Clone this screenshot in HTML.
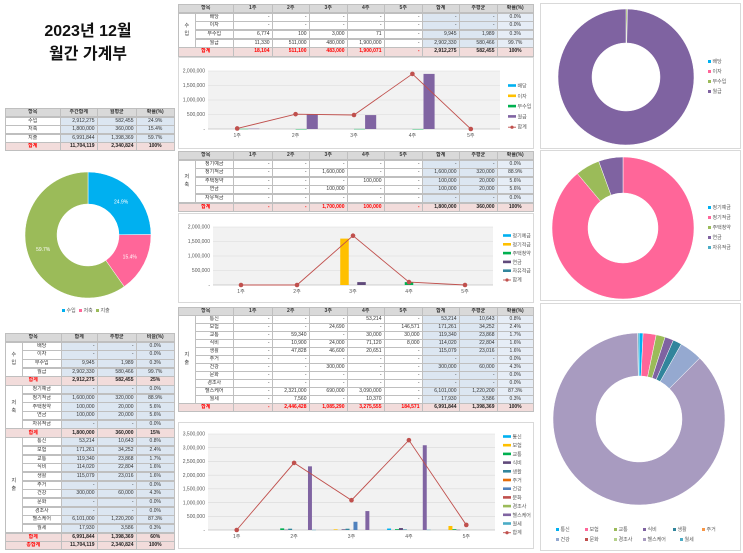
<!DOCTYPE html>
<html><head><meta charset="utf-8">
<style>
body{margin:0;width:743px;height:553px;background:#fff;position:relative;overflow:hidden;font-family:"Liberation Sans","Noto Sans CJK KR",sans-serif;}
.c{position:absolute;box-sizing:border-box;border:0.5px solid #bfbfbf;font-size:5px;line-height:1;display:flex;align-items:center;justify-content:center;color:#333;white-space:nowrap;overflow:hidden;}
.c.r{justify-content:flex-end;padding-right:2px;}
.hd{background:#d9d9d9;font-weight:bold;}
.bl{background:#dce6f1;}
.pb{background:#e6edf6;}
.tt{background:#f2dcdb;color:#ff0000;font-weight:bold;}
.tk{background:#f2dcdb;color:#222;font-weight:bold;}
.cat{writing-mode:horizontal-tb;white-space:pre;line-height:1.6;text-align:center;}
#title{position:absolute;left:0;width:176px;top:20px;text-align:center;font-size:16px;font-weight:bold;line-height:23px;color:#111;}
svg{position:absolute;left:0;top:0;}
</style></head>
<body>
<div id="title">2023년 12월<br>월간 가계부</div>
<div id="tables"></div>
<svg id="svg" width="743" height="553" style="pointer-events:none"></svg>
<script>
// ---------- chart data ----------
const weeks = ["1주","2주","3주","4주","5주"];
const incNames = ["배당","이자","부수입","월급"];
const incDiv = [0,0,0,0,0];
const incInt = [0,0,0,0,0];
const incSide = [6774,100,3000,71,0];
const incSal = [11330,511000,480000,1900000,0];
const incTotal = [18104,511100,483000,1900071,0];
const incTicks = ["-","500,000","1,000,000","1,500,000","2,000,000"];

const savNames = ["정기예금","정기적금","주택청약","연금","자유적금"];
const savDep = [0,0,0,0,0];
const savInst = [0,0,1600000,0,0];
const savHouse = [0,0,0,100000,0];
const savPen = [0,0,100000,0,0];
const savFree = [0,0,0,0,0];
const savTotal = [0,0,1700000,100000,0];
const savTicks = ["-","500,000","1,000,000","1,500,000","2,000,000"];

const expNames = ["통신","보험","교통","식비","생활","주거","건강","문화","경조사","헬스케어","월세"];
const expTel = [0,0,0,53214,0];
const expIns = [0,0,24690,0,146571];
const expTrans = [0,59340,0,30000,30000];
const expFood = [0,10900,24000,71120,8000];
const expLife = [0,47828,46600,20651,0];
const expHouse = [0,0,0,0,0];
const expHealth = [0,0,300000,0,0];
const expCult = [0,0,0,0,0];
const expEvent = [0,0,0,0,0];
const expCare = [0,2321000,690000,3090000,0];
const expRent = [0,7560,0,10370,0];
const expTotal = [0,2446428,1085290,3275555,184571];
const expTicks = ["-","500,000","1,000,000","1,500,000","2,000,000","2,500,000","3,000,000","3,500,000"];

const sumNames = ["수입","저축","지출"];
const sumValues = [2912275,1800000,6991844];
const incTotals = [0,0,9945,2902330];
const savTotals = [0,1600000,100000,100000,0];
const expTotals = [53214,171261,119340,114020,115079,0,300000,0,0,6101000,17930];

// ---------- tables ----------
const T = document.getElementById('tables');
function cell(x,y,w,h,t,cls,name){
  const d=document.createElement('div');
  d.className='c '+(cls||'');
  d.style.left=x+'px';d.style.top=y+'px';d.style.width=(w+0.5)+'px';d.style.height=(h+0.5)+'px';
  d.textContent=t;
  
  
  T.appendChild(d);return d;
}
// weekly tables
const MX=[178,195,233,272,309,347,384,422,459,497,533];
const hdrW=["1주","2주","3주","4주","5주","합계","주평균","확률(%)"];
function weekTable(y,rh,cat,rows,total){
  cell(MX[0],y,MX[2]-MX[0],rh,"항목","hd",'header-cell');
  hdrW.forEach((t,i)=>cell(MX[i+2],y,MX[i+3]-MX[i+2],rh,t,"hd",'header-cell'));
  cell(MX[0],y+rh,MX[1]-MX[0],rh*rows.length,cat,"cat",'category-cell');
  rows.forEach((r,j)=>{
    const yy=y+rh*(j+1);
    cell(MX[1],yy,MX[2]-MX[1],rh,r[0],"",'item-cell');
    for(let i=1;i<=8;i++){
      let cls = i<=5?"r":(i<=7?"r bl":"pb");
      cell(MX[i+1],yy,MX[i+2]-MX[i+1],rh,r[i],cls,'value-cell');
    }
  });
  const yt=y+rh*(rows.length+1);
  cell(MX[0],yt,MX[2]-MX[0],rh,"합계","tt",'total-label');
  for(let i=1;i<=8;i++){
    cell(MX[i+1],yt,MX[i+2]-MX[i+1],rh,total[i-1],i<=5?"tt r":(i<=7?"tk r":"tk"),'total-cell');
  }
}
weekTable(4,8.67,"수\n입",[
 ["배당","-","-","-","-","-","-","-","0.0%"],
 ["이자","-","-","-","-","-","-","-","0.0%"],
 ["부수입","6,774","100","3,000","71","-","9,945","1,989","0.3%"],
 ["월급","11,330","511,000","480,000","1,900,000","-","2,902,330","580,466","99.7%"]],
 ["18,104","511,100","483,000","1,900,071","-","2,912,275","582,455","100%"]);
weekTable(151,8.6,"저\n축",[
 ["정기예금","-","-","-","-","-","-","-","0.0%"],
 ["정기적금","-","-","1,600,000","-","-","1,600,000","320,000","88.9%"],
 ["주택청약","-","-","-","100,000","-","100,000","20,000","5.6%"],
 ["연금","-","-","100,000","-","-","100,000","20,000","5.6%"],
 ["자유적금","-","-","-","-","-","-","-","0.0%"]],
 ["-","-","1,700,000","100,000","-","1,800,000","360,000","100%"]);
weekTable(307,8,"지\n출",[
 ["통신","-","-","-","53,214","-","53,214","10,643","0.8%"],
 ["보험","-","-","24,690","-","146,571","171,261","34,252","2.4%"],
 ["교통","-","59,340","-","30,000","30,000","119,340","23,868","1.7%"],
 ["식비","-","10,900","24,000","71,120","8,000","114,020","22,804","1.6%"],
 ["생활","-","47,828","46,600","20,651","-","115,079","23,016","1.6%"],
 ["주거","-","-","-","-","-","-","-","0.0%"],
 ["건강","-","-","300,000","-","-","300,000","60,000","4.3%"],
 ["문화","-","-","-","-","-","-","-","0.0%"],
 ["경조사","-","-","-","-","-","-","-","0.0%"],
 ["헬스케어","-","2,321,000","690,000","3,090,000","-","6,101,000","1,220,200","87.3%"],
 ["월세","-","7,560","-","10,370","-","17,930","3,586","0.3%"]],
 ["-","2,446,428","1,085,290","3,275,555","184,571","6,991,844","1,398,369","100%"]);

// summary table
const SX=[5,60,97,136,174];
(function(){
  const y=108,rh=8.5;
  ["항목","주간합계","월평균","확률(%)"].forEach((t,i)=>cell(SX[i],y,SX[i+1]-SX[i],rh,t,"hd",'header-cell'));
  [["수입","2,912,275","582,455","24.9%"],["저축","1,800,000","360,000","15.4%"],["지출","6,991,844","1,398,369","59.7%"]].forEach((r,j)=>{
    r.forEach((t,i)=>cell(SX[i],y+rh*(j+1),SX[i+1]-SX[i],rh,t,i==0?"":(i<3?"r bl":"bl"),'summary-cell'));
  });
  ["합계","11,704,119","2,340,824","100%"].forEach((t,i)=>cell(SX[i],y+rh*4,SX[i+1]-SX[i],rh,t,i==0?"tt":(i<3?"tk r":"tk"),'summary-total'));
})();

// big left table
const LX=[5,22,61,97,136,174];
(function(){
  let y=333;const rh=8.68;
  ["항목","합계","주평균","비율(%)"].forEach((t,i)=>{
    const x0=i==0?LX[0]:LX[i+1], x1=LX[i+2];
    cell(x0,y,x1-x0,rh,t,"hd",'header-cell');
  });
  y+=rh;
  const groups=[
   ["수\n입",[["배당","-","-","0.0%"],["이자","-","-","0.0%"],["부수입","9,945","1,989","0.3%"],["월급","2,902,330","580,466","99.7%"]],["합계","2,912,275","582,455","25%"]],
   ["저\n축",[["정기예금","-","-","0.0%"],["정기적금","1,600,000","320,000","88.9%"],["주택청약","100,000","20,000","5.6%"],["연금","100,000","20,000","5.6%"],["자유적금","-","-","0.0%"]],["합계","1,800,000","360,000","15%"]],
   ["지\n출",[["통신","53,214","10,643","0.8%"],["보험","171,261","34,252","2.4%"],["교통","119,340","23,868","1.7%"],["식비","114,020","22,804","1.6%"],["생활","115,079","23,016","1.6%"],["주거","-","-","0.0%"],["건강","300,000","60,000","4.3%"],["문화","-","-","0.0%"],["경조사","-","-","0.0%"],["헬스케어","6,101,000","1,220,200","87.3%"],["월세","17,930","3,586","0.3%"]],["합계","6,991,844","1,398,369","60%"]]
  ];
  groups.forEach(g=>{
    cell(LX[0],y,LX[1]-LX[0],rh*g[1].length,g[0],"cat",'category-cell');
    g[1].forEach(r=>{
      r.forEach((t,i)=>cell(LX[i+1],y,LX[i+2]-LX[i+1],rh,t,i==0?"":(i<3?"r bl":"bl"),'value-cell'));
      y+=rh;
    });
    g[2].forEach((t,i)=>{const x0=i==0?LX[0]:LX[i+1];cell(x0,y,LX[i+2]-x0,rh,t,i==0?"tt":(i<3?"tk r":"tk"),'subtotal-cell');});
    y+=rh;
  });
  ["총합계","11,704,119","2,340,824","100%"].forEach((t,i)=>{const x0=i==0?LX[0]:LX[i+1];cell(x0,y,LX[i+2]-x0,rh,t,i==0?"tt":(i<3?"tk r":"tk"),'grand-total-cell');});
})();

// ---------- svg ----------
const NS='http://www.w3.org/2000/svg';
const S=document.getElementById('svg');
function el(tag,attrs,parent){
  const e=document.createElementNS(NS,tag);
  for(const k in attrs)e.setAttribute(k,attrs[k]);
  (parent||S).appendChild(e);return e;
}
function txt(x,y,t,attrs){
  const e=el('text',Object.assign({x:x,y:y,'font-size':5,fill:'#595959','font-family':'Liberation Sans, Noto Sans CJK KR, sans-serif'},attrs||{}));
  e.textContent=t;return e;
}

function barChart(name,box,plot,series,names,colors,total,ticks,step,legend){
  const g=el('g',{});
  
  
  el('rect',{x:box[0]+0.5,y:box[1]+0.5,width:box[2]-box[0],height:box[3]-box[1],fill:'#fff',stroke:'#d9d9d9'},g);
  const [px0,py0,px1,py1]=plot;
  el('rect',{x:px0,y:py0,width:px1-px0,height:py1-py0,fill:'#f2f2f2'},g);
  const ymax=step*(ticks.length-1);
  const yS=v=>py1-(v/ymax)*(py1-py0);
  const band=(px1-px0)/weeks.length;
  const xC=i=>px0+band*(i+0.5);
  ticks.forEach((t,i)=>{
    const y=yS(step*i);
    const gl=el('line',{x1:px0,x2:px1,y1:y,y2:y,stroke:i==0?'#a6a6a6':'#d9d9d9','stroke-width':0.6},g);
    
    const tl=txt(px0-3,y+1.7,t,{'text-anchor':'end'});g.appendChild(tl);
    
  });
  weeks.forEach((w,i)=>{
    const t=txt(xC(i),py1+8,w,{'text-anchor':'middle'});g.appendChild(t);
    
  });
  const gw=band*0.76, bw=gw/series.length;
  series.forEach((s,k)=>{
    s.forEach((v,i)=>{
      if(v<=0)return;
      const x=xC(i)-gw/2+k*bw;
      const r=el('rect',{x:x,y:yS(v),width:bw,height:Math.max(py1-yS(v),0.4),fill:colors[k]},g);
      
    });
  });
  const pts=total.map((v,i)=>xC(i)+','+yS(v)).join(' ');
  const pl=el('polyline',{points:pts,fill:'none',stroke:'#c0504d','stroke-width':0.9},g);
  
  total.forEach((v,i)=>{
    const c=el('circle',{cx:xC(i),cy:yS(v),r:2.3,fill:'#c0504d'},g);
    
  });
  // legend
  const [lx,ly,ls]=legend;
  names.forEach((n,k)=>{
    const y=ly+ls*k;
    const r=el('rect',{x:lx,y:y-1.8,width:8,height:2.6,fill:colors[k]},g);
    
    const t=txt(lx+9.5,y+1.5,n,{});g.appendChild(t);
    
  });
  const yl=ly+ls*names.length;
  el('line',{x1:lx,x2:lx+8,y1:yl,y2:yl,stroke:'#c0504d','stroke-width':0.9},g);
  el('circle',{cx:lx+4,cy:yl,r:1.6,fill:'#c0504d'},g);
  const t=txt(lx+9.5,yl+1.5,"합계",{});g.appendChild(t);
  
}

barChart('income-weekly-chart',[178,57,533,148],[208,71,500,129],
  [incDiv,incInt,incSide,incSal],incNames,['#00b0f0','#ffc000','#00b050','#8064a2'],incTotal,incTicks,500000,[508,86,10.3]);
barChart('savings-weekly-chart',[178,213,533,302],[213,227,493,285],
  [savDep,savInst,savHouse,savPen,savFree],savNames,['#00b0f0','#ffc000','#00b050','#604a7b','#31859c'],savTotal,savTicks,500000,[503,236,8.8]);
barChart('expense-weekly-chart',[178,422,533,548],[208,434,495,530],
  [expTel,expIns,expTrans,expFood,expLife,expHouse,expHealth,expCult,expEvent,expCare,expRent],expNames,
  ['#00b0f0','#ffc000','#00b050','#604a7b','#31859c','#e46c0a','#4f81bd','#c0504d','#9bbb59','#8064a2','#4bacc6'],expTotal,expTicks,500000,[503,437,8.7]);

// donuts
function donut(name,cx,cy,ro,ri,values,names,colors,labels){
  const g=el('g',{});
  
  
  const sum=values.reduce((a,b)=>a+b,0);
  let a0=-Math.PI/2;
  values.forEach((v,k)=>{
    if(v<=0)return;
    const a1=a0+v/sum*Math.PI*2;
    const large=(a1-a0)>Math.PI?1:0;
    const p=[
      'M',cx+ro*Math.cos(a0),cy+ro*Math.sin(a0),
      'A',ro,ro,0,large,1,cx+ro*Math.cos(a1),cy+ro*Math.sin(a1),
      'L',cx+ri*Math.cos(a1),cy+ri*Math.sin(a1),
      'A',ri,ri,0,large,0,cx+ri*Math.cos(a0),cy+ri*Math.sin(a0),'Z'].join(' ');
    const s=el('path',{d:p,fill:colors[k],stroke:'#fff','stroke-width':0.5},g);
    
    if(labels){
      const am=(a0+a1)/2,rm=(ro+ri)/2;
      const t=txt(cx+rm*Math.cos(am),cy+rm*Math.sin(am)+2,(v/sum*100).toFixed(1)+'%',{fill:'#fff','text-anchor':'middle'});
      g.appendChild(t);
      
    }
    a0=a1;
  });
  return g;
}
function legendList(items,colors,pos){
  items.forEach((n,k)=>{
    const [x,y]=pos[k];
    const r=el('rect',{x:x,y:y-3,width:3,height:3,fill:colors[k]});
    
    const t=txt(x+4.5,y,n,{});S.appendChild(t);
    
  });
}
// panels
[[540,3,740,148,'income-donut-panel'],[540,150,740,300,'savings-donut-panel'],[540,303,740,550,'expense-donut-panel']].forEach(b=>{
  const r=el('rect',{x:b[0]+0.5,y:b[1]+0.5,width:b[2]-b[0],height:b[3]-b[1],fill:'none',stroke:'#d9d9d9'});
  
});
const sumColors=['#00b0f0','#ff6699','#9bbb59'];
donut('summary-donut',88,235,63,31,sumValues,sumNames,sumColors,true);
legendList(sumNames,sumColors,[[62,312],[79,312],[96,312]]);

const incColors=['#00b0f0','#ff6699','#9bbb59','#7f63a1'];
donut('income-donut',626,77,68,34,incTotals,incNames,incColors,false);
legendList(incNames,incColors,[[708,63],[708,73],[708,83],[708,93]]);

const savColors=['#00b0f0','#ff6699','#9bbb59','#7f63a1','#4bacc6'];
donut('savings-donut',623,228,71,35,savTotals,savNames,savColors,false);
legendList(savNames,savColors,[[708,209],[708,219],[708,229],[708,239],[708,249]]);

const expColors=['#00b0f0','#ff6699','#9bbb59','#7f63a1','#31859c','#f79646','#95a9d0','#c0504d','#b5d18b','#a89bc0','#4bacc6'];
donut('expense-donut',639,419,86,43,expTotals,expNames,expColors,false);
legendList(expNames,expColors,[[556,531],[585,531],[614,531],[643,531],[673,531],[702,531],[556,541],[585,541],[614,541],[643,541],[680,541]]);
</script>
</body></html>
